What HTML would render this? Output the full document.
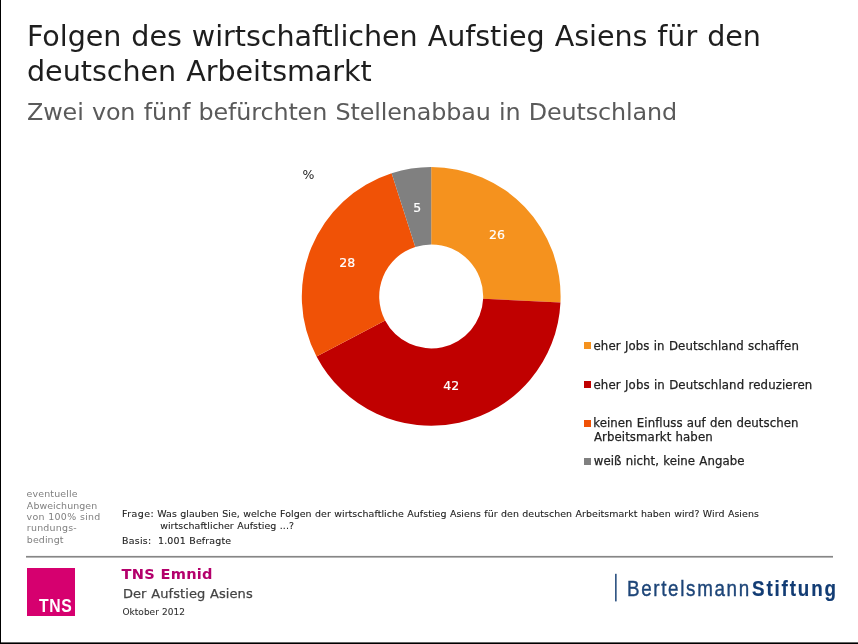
<!DOCTYPE html>
<html lang="de">
<head>
<meta charset="utf-8">
<title>Folgen des wirtschaftlichen Aufstieg Asiens für den deutschen Arbeitsmarkt</title>
<style>
html,body{margin:0;padding:0;background:#fff}
body{width:858px;height:644px;position:relative;overflow:hidden;font-family:"DejaVu Sans", "Liberation Sans", sans-serif}
.t{position:absolute;white-space:nowrap;line-height:1;margin:0;padding:0;word-spacing:0.034em}
.pb{display:inline-block;width:0;height:0}
svg{position:absolute;left:0;top:0}
.sq{position:absolute;width:7px;height:7px;left:584px}
#tnsbox{position:absolute;left:27px;top:568px;width:48px;height:48px;background:#d6006f}
#t1{transform:scaleX(1.025);transform-origin:0 0;left:26.90px;top:23.01px;font-size:27.90px;color:#1e1e1e;letter-spacing:-0.056px}
#t2{transform:scaleX(1.025);transform-origin:0 0;left:27.18px;top:58.01px;font-size:27.90px;color:#1e1e1e;letter-spacing:-0.034px}
#t3{transform:scaleX(1.025);transform-origin:0 0;left:27.33px;top:100.00px;font-size:23.25px;color:#5a5a5a;letter-spacing:-0.112px}
#pc{left:302.38px;top:169.00px;font-size:12.50px;color:#222;letter-spacing:0.000px}
#l1{-webkit-text-stroke:0.25px;left:593.50px;top:341.00px;font-size:11.75px;color:#222;letter-spacing:0.101px}
#l2{-webkit-text-stroke:0.25px;left:593.50px;top:380.00px;font-size:11.75px;color:#222;letter-spacing:0.122px}
#l3{-webkit-text-stroke:0.25px;left:593.20px;top:418.00px;font-size:11.75px;color:#222;letter-spacing:0.069px}
#l3b{-webkit-text-stroke:0.25px;left:593.98px;top:432.00px;font-size:11.75px;color:#222;letter-spacing:0.079px}
#l4{-webkit-text-stroke:0.25px;left:593.77px;top:456.00px;font-size:11.75px;color:#222;letter-spacing:0.062px}
#n26{-webkit-text-stroke:0.2px;left:489.11px;top:229.00px;font-size:12.50px;color:#fff;letter-spacing:-0.031px}
#n42{-webkit-text-stroke:0.2px;left:443.22px;top:380.00px;font-size:12.50px;color:#fff;letter-spacing:0.149px}
#n28{-webkit-text-stroke:0.2px;left:339.20px;top:257.00px;font-size:12.50px;color:#fff;letter-spacing:0.118px}
#n5{-webkit-text-stroke:0.2px;left:413.31px;top:202.00px;font-size:12.50px;color:#fff;letter-spacing:0.000px}
#g1{left:26.58px;top:489.00px;font-size:9.45px;color:#808080;letter-spacing:0.147px}
#g2{left:26.87px;top:501.00px;font-size:9.45px;color:#808080;letter-spacing:0.073px}
#g3{left:26.62px;top:512.00px;font-size:9.45px;color:#808080;letter-spacing:0.264px}
#g4{left:26.83px;top:523.00px;font-size:9.45px;color:#808080;letter-spacing:0.230px}
#g5{left:26.83px;top:535.00px;font-size:9.45px;color:#808080;letter-spacing:0.087px}
#f1{-webkit-text-stroke:0.1px;left:122.09px;top:509.00px;font-size:9.45px;color:#222;letter-spacing:0.458px}
#f1b{-webkit-text-stroke:0.1px;left:157.35px;top:509.00px;font-size:9.45px;color:#222;letter-spacing:0.054px}
#f2{-webkit-text-stroke:0.1px;left:160.17px;top:521.00px;font-size:9.45px;color:#222;letter-spacing:0.055px}
#f3{-webkit-text-stroke:0.1px;left:122.11px;top:536.00px;font-size:9.45px;color:#222;letter-spacing:0.228px}
#f3b{-webkit-text-stroke:0.1px;left:158.08px;top:536.00px;font-size:9.45px;color:#222;letter-spacing:0.143px}
#tns{transform:scaleX(0.9);transform-origin:0 0;font-family:"Liberation Sans", "DejaVu Sans", sans-serif;font-weight:700;left:39.20px;top:598.00px;font-size:17.50px;color:#fff;letter-spacing:0.664px}
#e1{font-weight:700;left:121.62px;top:567.01px;font-size:14.60px;color:#b4006c;letter-spacing:0.185px}
#e2{-webkit-text-stroke:0.25px;left:122.94px;top:587.00px;font-size:13.00px;color:#444;letter-spacing:0.083px}
#e3{-webkit-text-stroke:0.1px;left:122.52px;top:608.00px;font-size:9.00px;color:#333;letter-spacing:0.009px}
#b1{transform:scaleX(0.87);transform-origin:0 0;-webkit-text-stroke:0.4px #1d4578;font-family:"Liberation Sans", "DejaVu Sans", sans-serif;left:626.67px;top:578.01px;font-size:21.60px;color:#1d4578;letter-spacing:1.916px}
#b2{transform:scaleX(0.87);transform-origin:0 0;-webkit-text-stroke:0.2px #123c74;font-family:"Liberation Sans", "DejaVu Sans", sans-serif;font-weight:700;left:751.95px;top:578.01px;font-size:21.60px;color:#123c74;letter-spacing:2.142px}
</style>
</head>
<body>
<svg width="858" height="644" viewBox="0 0 858 644">
<path d="M431.20 167.00A129.4 129.4 0 0 1 560.46 302.44L483.14 298.83A52.0 52.0 0 0 0 431.20 244.40Z" fill="#f5921e"/>
<path d="M560.46 302.44A129.4 129.4 0 0 1 316.55 356.40L385.13 320.51A52.0 52.0 0 0 0 483.14 298.83Z" fill="#c00000"/>
<path d="M316.55 356.40A129.4 129.4 0 0 1 391.60 173.21L415.29 246.90A52.0 52.0 0 0 0 385.13 320.51Z" fill="#f05206"/>
<path d="M391.60 173.21A129.4 129.4 0 0 1 431.20 167.00L431.20 244.40A52.0 52.0 0 0 0 415.29 246.90Z" fill="#808080"/>
<rect x="0" y="0" width="1" height="644" fill="#000"/>
<rect x="0" y="642.4" width="858" height="1.6" fill="#000"/>
<rect x="26" y="555.9" width="807" height="1.7" fill="#868686"/>
<rect x="615.1" y="573.8" width="1.5" height="27.6" fill="#1d4578"/>
</svg>
<div class="sq" style="top:342px;background:#f5921e"></div>
<div class="sq" style="top:381px;background:#c00000"></div>
<div class="sq" style="top:419.5px;background:#f05206"></div>
<div class="sq" style="top:458px;background:#808080"></div>
<div id="tnsbox"></div>
<div class="t" id="t1">Folgen des wirtschaftlichen Aufstieg Asiens für den</div>
<div class="t" id="t2">deutschen Arbeitsmarkt</div>
<div class="t" id="t3">Zwei von fünf befürchten Stellenabbau in Deutschland</div>
<div class="t" id="pc">%</div>
<div class="t" id="l1">eher Jobs in Deutschland schaffen</div>
<div class="t" id="l2">eher Jobs in Deutschland reduzieren</div>
<div class="t" id="l3">keinen Einfluss auf den deutschen</div>
<div class="t" id="l3b">Arbeitsmarkt haben</div>
<div class="t" id="l4">weiß nicht, keine Angabe</div>
<div class="t" id="n26">26</div>
<div class="t" id="n42">42</div>
<div class="t" id="n28">28</div>
<div class="t" id="n5">5</div>
<div class="t" id="g1">eventuelle</div>
<div class="t" id="g2">Abweichungen</div>
<div class="t" id="g3">von 100% sind</div>
<div class="t" id="g4">rundungs-</div>
<div class="t" id="g5">bedingt</div>
<div class="t" id="f1">Frage:</div>
<div class="t" id="f1b">Was glauben Sie, welche Folgen der wirtschaftliche Aufstieg Asiens für den deutschen Arbeitsmarkt haben wird? Wird Asiens</div>
<div class="t" id="f2">wirtschaftlicher Aufstieg ...?</div>
<div class="t" id="f3">Basis:</div>
<div class="t" id="f3b">1.001 Befragte</div>
<div class="t" id="tns">TNS</div>
<div class="t" id="e1">TNS Emnid</div>
<div class="t" id="e2">Der Aufstieg Asiens</div>
<div class="t" id="e3">Oktober 2012</div>
<div class="t" id="b1">Bertelsmann</div>
<div class="t" id="b2">Stiftung</div>
</body>
</html>
